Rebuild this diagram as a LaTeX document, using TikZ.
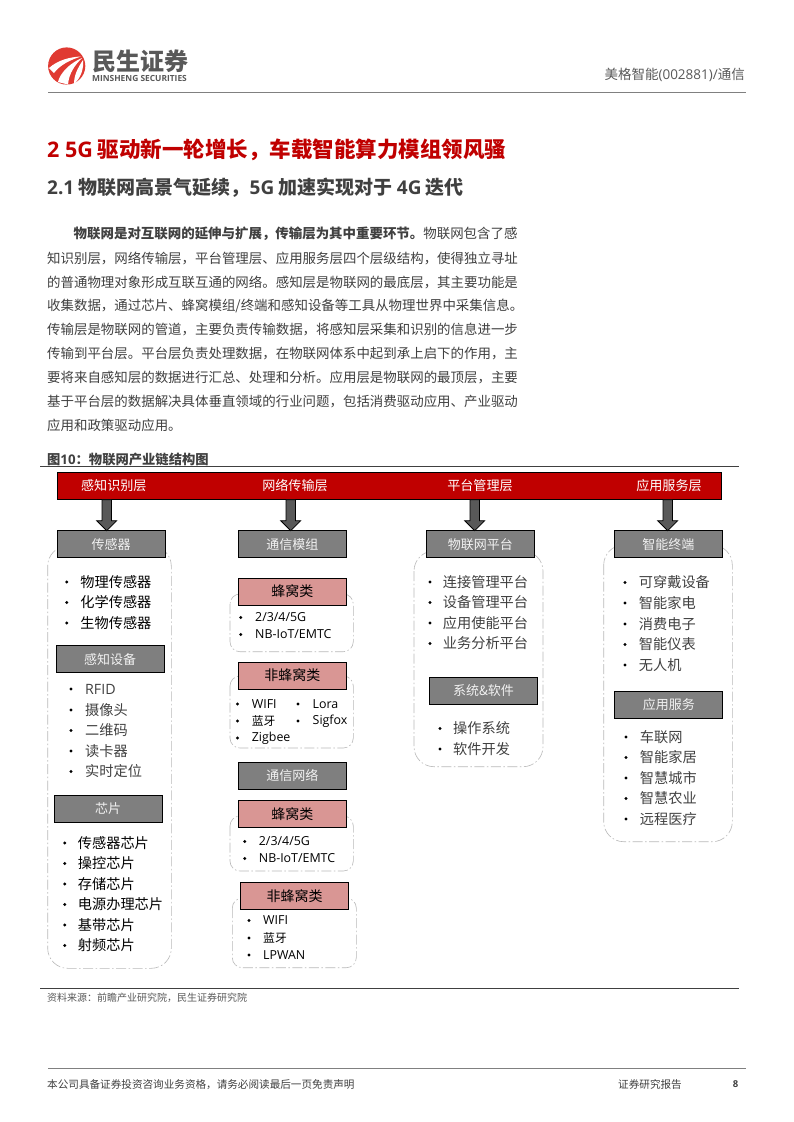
\documentclass[tikz,border=0pt]{standalone}
\usepackage{fontspec}
\setmainfont{Noto Sans CJK SC}
\newfontfamily\latinf{Open Sans}
\usetikzlibrary{calc}
\definecolor{msred}{HTML}{C00000}
\definecolor{msgray}{HTML}{7F7F7F}
\definecolor{mspink}{HTML}{D99694}
\definecolor{mstext}{HTML}{404040}
\definecolor{msdark}{HTML}{595959}
\definecolor{mslogo}{HTML}{E03A32}
\tikzset{
 x=1pt,y=-1pt,
 band/.style={draw=black,line width=.8pt,fill=msred,minimum width=664pt,minimum height=27pt,inner sep=0},
 hdr/.style={draw=black,line width=.8pt,fill=msgray,text=white!90!gray,minimum width=108pt,minimum height=27pt,inner sep=0,font=\fontsize{13}{13}\selectfont},
 pink/.style={draw=black,line width=.8pt,fill=mspink,text=black,minimum width=108pt,minimum height=27pt,inner sep=0,font=\fontsize{14}{14}\selectfont},
 lay/.style={text=white,font=\fontsize{13.1}{13}\selectfont,inner sep=0},
 group/.style={draw=gray!55,dash pattern=on 10pt off 2.5pt on 1.5pt off 2.5pt,line width=.6pt,rounded corners=20pt},
 tiny/.style={draw=gray!55,dash pattern=on 10pt off 2.5pt on 1.5pt off 2.5pt,line width=.6pt,rounded corners=10pt},
 item/.style={anchor=west,inner sep=0,text=black,font=\fontsize{14.2}{14}\selectfont},
 itemg/.style={item,text=mstext},
 sm/.style={anchor=west,inner sep=0,text=black,font=\latinf\fontsize{12.4}{12}\selectfont},
 smc/.style={anchor=west,inner sep=0,text=black,font=\fontsize{11.8}{12}\selectfont},
 dot/.style={circle,fill=black,inner sep=0,minimum size=3.3pt},
 blockarr/.style={draw=black,fill=msdark,line width=.8pt,line join=miter},
 para/.style={anchor=west,inner sep=0,text=mstext,font=\fontsize{13.45}{14}\selectfont},
 rulee/.style={line width=1.3pt,draw=mstext},
}
\newcommand{\bul}[5]{\node[dot] at (#1,#2) {};\node[#4] at (#1+#5,#2) {#3};}
% #1 start coordinate name, #2 tip coordinate name
\newcommand{\blockarrow}[2]{\draw[blockarr] ($(#1)+(-4.7,0)$) -- ($(#1)+(4.7,0)$) -- ($(#2)+(4.7,-10)$) -- ($(#2)+(10,-10)$) -- (#2) -- ($(#2)+(-10,-10)$) -- ($(#2)+(-4.7,-10)$) -- cycle;}
\begin{document}
\begin{tikzpicture}
\useasboundingbox (0,0) rectangle (793,1122);
\fill[white] (0,0) rectangle (793,1122);
% logo
\fill[mslogo] (66.7,66) circle (18.6);
\fill[white] (49,68) .. controls (58,60) and (70,57) .. (81,56.5) .. controls (70,60) and (60,65) .. (54,73) -- cycle;
\fill[white] (58,82) .. controls (60,73) and (70,63) .. (82,58) .. controls (75,65) and (69,73) .. (68,84.5) -- cycle;
\fill[white] (74,84) .. controls (74,76) and (77,69) .. (83,60) .. controls (84,68) and (81,78) .. (74,84) -- cycle;
\node[inner sep=0,text=msdark,font=\fontsize{24}{24}\selectfont\bfseries] (brand) at (140,61) {民生证券};
\node[inner sep=0,text=msdark,font=\latinf\fontsize{8.4}{8}\selectfont\bfseries] (brandlat) at (139.5,78) {MINSHENG SECURITIES};
\draw[line width=.9pt,draw=gray] (48,92.3) -- (746,92.3);
\node[anchor=east,inner sep=0,text=msdark,font=\fontsize{13.5}{13}\selectfont] (hr) at (745,75) {美格智能{\latinf(002881)/}通信};
% headings
\node[anchor=west,inner sep=0,text=msred,font=\fontsize{21.5}{21}\selectfont\bfseries] (h1) at (47,150) {{\latinf 2 5G} 驱动新一轮增长，车载智能算力模组领风骚};
\node[anchor=west,inner sep=0,text=mstext,font=\fontsize{19}{19}\selectfont\bfseries] (h2) at (47,188) {{\latinf 2.1} 物联网高景气延续，{\latinf 5G} 加速实现对于 {\latinf 4G} 迭代};
% paragraph
\node[para] (p1) at (73.5,234) {\textbf{物联网是对互联网的延伸与扩展，传输层为其中重要环节。}物联网包含了感};
\node[para] (p2) at (47,258) {知识别层，网络传输层，平台管理层、应用服务层四个层级结构，使得独立寻址};
\node[para] (p3) at (47,282) {的普通物理对象形成互联互通的网络。感知层是物联网的最底层，其主要功能是};
\node[para] (p4) at (47,305.5) {收集数据，通过芯片、蜂窝模组/终端和感知设备等工具从物理世界中采集信息。};
\node[para] (p5) at (47,329.5) {传输层是物联网的管道，主要负责传输数据，将感知层采集和识别的信息进一步};
\node[para] (p6) at (47,353.5) {传输到平台层。平台层负责处理数据，在物联网体系中起到承上启下的作用，主};
\node[para] (p7) at (47,377.5) {要将来自感知层的数据进行汇总、处理和分析。应用层是物联网的最顶层，主要};
\node[para] (p8) at (47,401.5) {基于平台层的数据解决具体垂直领域的行业问题，包括消费驱动应用、产业驱动};
\node[para] (p9) at (47,425.5) {应用和政策驱动应用。};
% figure title
\node[anchor=west,inner sep=0,text=mstext,font=\fontsize{13.3}{13}\selectfont\bfseries] (ft) at (47,459) {图{\latinf 10}：物联网产业链结构图};
\draw[rulee] (40,466.8) -- (739,466.8);
\draw[rulee] (40,988.5) -- (739,988.5);
\node[anchor=west,inner sep=0,text=msdark,font=\fontsize{10}{10}\selectfont] (src) at (47,998) {资料来源：前瞻产业研究院，民生证券研究院};
% groups
\draw[group] (47.7,546) rectangle (171.3,968.3);
\draw[group] (414,551) rectangle (543,766.7);
\draw[group] (603.7,545) rectangle (732.3,841.7);
\draw[tiny] (230,594) rectangle (353.3,651.7);
\draw[tiny] (230,676) rectangle (353.3,748);
\draw[tiny] (230,816) rectangle (353.3,871);
\draw[tiny] (232.3,898) rectangle (356.3,967.7);
% band
\node[band] (bar) at (389,486) {};
\node[lay] (l1) at (113.8,485.5) {感知识别层};
\node[lay] (l2) at (295,485.5) {网络传输层};
\node[lay] (l3) at (480,485.5) {平台管理层};
\node[lay] (l4) at (669,485.5) {应用服务层};
% headers
\node[hdr] (a1) at (111,544.2) {传感器};
\node[hdr] (a2) at (110,659.2) {感知设备};
\node[hdr] (a3) at (108,809) {芯片};
\node[hdr] (b1) at (292.3,544.2) {通信模组};
\node[pink] (b2) at (292.3,591.5) {蜂窝类};
\node[pink] (b3) at (292.3,675.5) {非蜂窝类};
\node[hdr] (b4) at (292.3,775.5) {通信网络};
\node[pink] (b5) at (292.3,814.3) {蜂窝类};
\node[pink] (b6) at (294.5,896.3) {非蜂窝类};
\node[hdr] (c1) at (480.3,544.2) {物联网平台};
\node[hdr] (c2) at (483.5,690.8) {系统\&软件};
\node[hdr] (d1) at (668.3,544.2) {智能终端};
\node[hdr] (d2) at (668.8,704.5) {应用服务};
% arrows
\coordinate (s1) at (106.7,499.7); \coordinate (e1) at (106.7,530.7);
\coordinate (s2) at (290.7,499.7); \coordinate (e2) at (290.7,530.7);
\coordinate (s3) at (474.7,499.7); \coordinate (e3) at (474.7,530.7);
\coordinate (s4) at (667.7,499.7); \coordinate (e4) at (667.7,530.7);
\blockarrow{s1}{e1}
\blockarrow{s2}{e2}
\blockarrow{s3}{e3}
\blockarrow{s4}{e4}
% items col a
\bul{66.7}{582}{物理传感器}{item}{13.5}
\bul{66.7}{602.5}{化学传感器}{item}{13.5}
\bul{66.7}{623}{生物传感器}{item}{13.5}
\bul{71}{689}{\latinf RFID}{itemg}{14}
\bul{71}{710}{摄像头}{itemg}{14}
\bul{71}{730.5}{二维码}{itemg}{14}
\bul{71}{751}{读卡器}{itemg}{14}
\bul{71}{771.5}{实时定位}{itemg}{14}
\bul{64.7}{843}{传感器芯片}{item}{13}
\bul{64.7}{863.5}{操控芯片}{item}{13}
\bul{64.7}{884}{存储芯片}{item}{13}
\bul{64.7}{904.5}{电源办理芯片}{item}{13}
\bul{64.7}{925}{基带芯片}{item}{13}
\bul{64.7}{945.5}{射频芯片}{item}{13}
% col b
\bul{240.7}{617.5}{2/3/4/5G}{sm}{14.3}
\bul{240.7}{634.5}{NB-IoT/EMTC}{sm}{14.3}
\bul{237.5}{704}{WIFI}{sm}{14.2}
\bul{237.5}{721}{蓝牙}{smc}{14.2}
\bul{237.5}{738}{Zigbee}{sm}{14.2}
\bul{298}{704}{Lora}{sm}{14.5}
\bul{298}{721}{Sigfox}{sm}{14.5}
\bul{244.7}{841.5}{2/3/4/5G}{sm}{14}
\bul{244.7}{858.5}{NB-IoT/EMTC}{sm}{14}
\bul{249}{920.5}{WIFI}{sm}{14}
\bul{249}{938}{蓝牙}{smc}{14}
\bul{249}{955}{LPWAN}{sm}{14}
% col c
\bul{430}{582}{连接管理平台}{itemg}{12.7}
\bul{430}{602.5}{设备管理平台}{itemg}{12.7}
\bul{430}{623}{应用使能平台}{itemg}{12.7}
\bul{430}{643.5}{业务分析平台}{itemg}{12.7}
\bul{440}{728.5}{操作系统}{itemg}{13}
\bul{440}{749}{软件开发}{itemg}{13}
% col d
\bul{625}{582.5}{可穿戴设备}{itemg}{13.7}
\bul{625}{603}{智能家电}{itemg}{13.7}
\bul{625}{624}{消费电子}{itemg}{13.7}
\bul{625}{644.5}{智能仪表}{itemg}{13.7}
\bul{625}{665}{无人机}{itemg}{13.7}
\bul{626}{737}{车联网}{itemg}{13.7}
\bul{626}{757.5}{智能家居}{itemg}{13.7}
\bul{626}{778}{智慧城市}{itemg}{13.7}
\bul{626}{798.5}{智慧农业}{itemg}{13.7}
\bul{626}{819}{远程医疗}{itemg}{13.7}
% footer
\draw[line width=.8pt,draw=gray] (48,1068) -- (746,1068);
\node[anchor=west,inner sep=0,text=mstext,font=\fontsize{10.6}{10}\selectfont] (f1) at (47,1084.5) {本公司具备证券投资咨询业务资格，请务必阅读最后一页免责声明};
\node[anchor=west,inner sep=0,text=mstext,font=\fontsize{10.6}{10}\selectfont] (f2) at (618,1084.5) {证券研究报告};
\node[anchor=east,inner sep=0,text=mstext,font=\latinf\fontsize{9.5}{10}\selectfont\bfseries] (f3) at (738.5,1084.5) {8};
\end{tikzpicture}
\end{document}
